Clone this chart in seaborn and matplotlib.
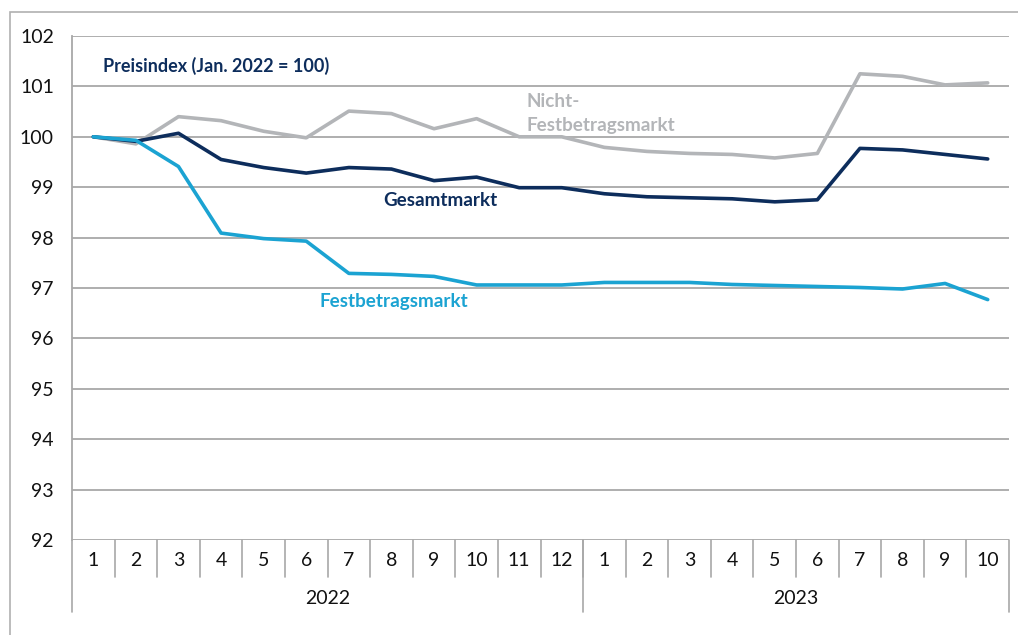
import pandas as pd
import seaborn as sns
import matplotlib.pyplot as plt
from matplotlib.patches import Rectangle
from matplotlib.transforms import blended_transform_factory

# months (2022: 1-12, 2023: 1-10)
months = [str(m) for m in range(1, 13)] + [str(m) for m in range(1, 11)]
years = ['2022', '2023']
year_counts = [12, 10]

gesamt = [100.00, 99.91, 100.07, 99.55, 99.39, 99.28, 99.39, 99.36, 99.13, 99.20, 98.99, 98.99,
          98.87, 98.81, 98.79, 98.77, 98.71, 98.75, 99.77, 99.74, 99.65, 99.56]
festbetrag = [100.00, 99.93, 99.41, 98.09, 97.98, 97.93, 97.29, 97.27, 97.23, 97.06, 97.06, 97.06,
              97.11, 97.11, 97.11, 97.07, 97.05, 97.03, 97.01, 96.98, 97.09, 96.77]
nicht_festbetrag = [100.00, 99.86, 100.40, 100.32, 100.11, 99.98, 100.51, 100.46, 100.16, 100.36, 100.00, 100.00,
                    99.79, 99.71, 99.67, 99.65, 99.58, 99.67, 101.25, 101.20, 101.03, 101.07]

NAVY = '#0d2d5c'
CYAN = '#1ba3d2'
GRAY = '#b3b5b8'
GRID = '#a8a8a8'

sns.set_theme(style='white')
plt.rcParams['font.family'] = ['Lato', 'DejaVu Sans']

n = len(months)
df = pd.DataFrame({
    'pos': list(range(n)) * 3,
    'wert': nicht_festbetrag + gesamt + festbetrag,
    'markt': ['Nicht-Festbetragsmarkt'] * n + ['Gesamtmarkt'] * n + ['Festbetragsmarkt'] * n,
})

fig = plt.figure(figsize=(10.18, 6.35), dpi=100)
W, H = 1018, 635
ax = fig.add_axes([72 / W, (H - 540) / H, (1009 - 72) / W, (540 - 36) / H])

# outer chart frame (left/top visible)
fig.patches.append(Rectangle((9.5 / W, -0.1), 1.2, (H - 12.5) / H + 0.1, transform=fig.transFigure,
                             fill=False, edgecolor='#b0b0b0', linewidth=1.2))

sns.lineplot(data=df, x='pos', y='wert', hue='markt',
             palette={'Nicht-Festbetragsmarkt': GRAY, 'Gesamtmarkt': NAVY, 'Festbetragsmarkt': CYAN},
             linewidth=2.6, legend=False, ax=ax)

ax.set_xlim(-0.5, n - 0.5)
ax.set_ylim(92, 102)
ax.set_yticks(range(92, 103))
ax.yaxis.grid(True, color=GRID, linewidth=1.3)
ax.set_axisbelow(True)
ax.set_xticks([])
ax.set_xlabel('')
ax.set_ylabel('')
ax.tick_params(axis='y', length=0, pad=13, labelsize=14, labelcolor='#111111')
for s in ['top', 'right', 'bottom']:
    ax.spines[s].set_visible(False)
ax.spines['left'].set_color(GRID)
ax.spines['left'].set_linewidth(1.3)

# category axis below
tr = blended_transform_factory(ax.transData, fig.transFigure)
def fy(px):
    return (H - px) / H

for i, m in enumerate(months):
    ax.text(i, fy(560), m, transform=tr, ha='center', va='center', fontsize=14, color='#111111')
for i in range(1, n):
    ax.plot([i - 0.5, i - 0.5], [fy(540), fy(577)], transform=tr, color=GRID, lw=1.2, clip_on=False)
start = 0
bounds = [-0.5]
for y, c in zip(years, year_counts):
    ax.text(start + (c - 1) / 2, fy(599), y, transform=tr, ha='center', va='center', fontsize=14, color='#111111')
    start += c
    bounds.append(start - 0.5)
for b in bounds:
    ax.plot([b, b], [fy(540), fy(612)], transform=tr, color=GRID, lw=1.2, clip_on=False)

# labels
lab = dict(fontsize=13.6, fontweight='bold', va='center')
ax.text(0.23, 101.4, 'Preisindex (Jan. 2022 = 100)', color=NAVY, **dict(lab, fontsize=13))
ax.text(10.18, 100.7, 'Nicht-', color=GRAY, **lab)
ax.text(10.18, 100.22, 'Festbetragsmarkt', color=GRAY, **lab)
ax.text(6.80, 98.74, 'Gesamtmarkt', color=NAVY, **lab)
ax.text(5.32, 96.73, 'Festbetragsmarkt', color=CYAN, **lab)

fig.savefig('out.png', dpi=100)
